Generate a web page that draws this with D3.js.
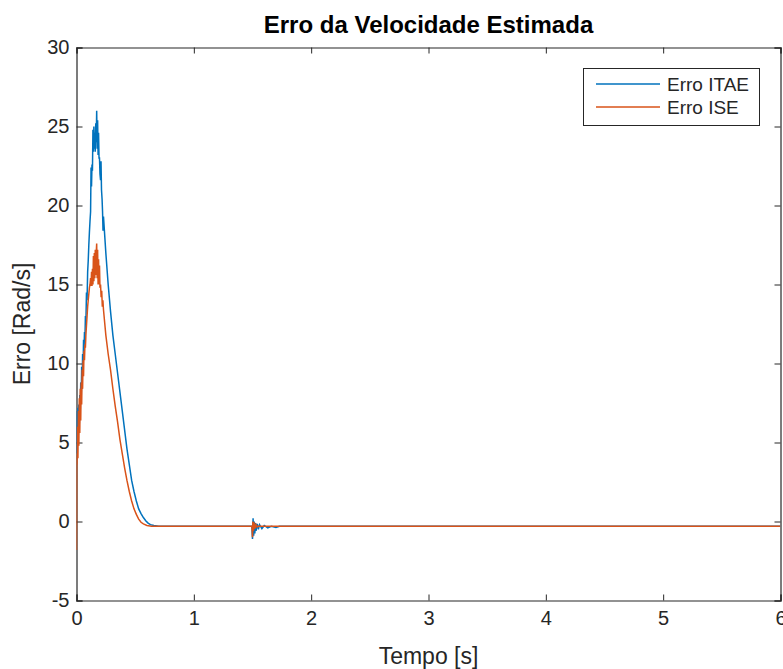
<!DOCTYPE html>
<html>
<head>
<meta charset="utf-8">
<script src="https://cdn.jsdelivr.net/npm/d3@7"></script>
<style>
  body { margin: 0; background: #fff; }
  text { font-family: "Liberation Sans", Arial, sans-serif; fill: #262626; }
  .axis path, .axis line { stroke: #262626; }
</style>
</head>
<body>
<svg id="chart" width="783" height="669"></svg>
<script>
// series: Erro ITAE (blue)
var itaeT = [0, 0.004, 0.008, 0.012, 0.016, 0.020, 0.024, 0.028, 0.032, 0.036, 0.040, 0.044, 0.048, 0.052, 0.056, 0.060,
  0.064, 0.068, 0.072, 0.076, 0.080, 0.085, 0.090, 0.095, 0.100, 0.105, 0.110, 0.115, 0.120, 0.124, 0.128, 0.132, 0.136,
  0.140, 0.144, 0.148, 0.152, 0.156, 0.160, 0.164, 0.168, 0.172, 0.176, 0.180, 0.184, 0.188, 0.192, 0.196, 0.200, 0.205,
  0.209, 0.213, 0.218, 0.222, 0.226, 0.230, 0.25, 0.27, 0.29, 0.31, 0.33, 0.35, 0.37, 0.39, 0.41, 0.43, 0.45, 0.47, 0.49,
  0.51, 0.53, 0.55, 0.57, 0.59, 0.61, 0.63, 0.66, 0.70, 1.495, 1.500, 1.505, 1.510, 1.515, 1.520, 1.525, 1.530, 1.540,
  1.550, 1.560, 1.580, 1.600, 1.630, 1.660, 1.700, 1.730, 6.0];
var itaeV = [4.3, 7.0, 5.0, 7.2, 5.5, 7.4, 6.2, 8.0, 7.0, 8.8, 7.6, 9.8, 8.4, 10.6, 9.6, 11.5,
  10.8, 12.0, 11.6, 13.0, 12.6, 14.5, 14.0, 15.8, 16.5, 17.5, 18.3, 19.0, 19.6, 22.4, 21.2, 22.6, 22.2,
  24.8, 23.4, 25.0, 23.6, 24.6, 23.4, 25.2, 24.0, 26.0, 23.6, 25.4, 23.2, 24.6, 23.0, 23.0, 22.0, 21.6,
  22.8, 21.0, 20.4, 19.6, 18.4, 19.3, 17.0, 15.0, 13.3, 11.8, 10.6, 9.4, 8.2, 7.0, 5.8, 4.6, 3.6, 2.6, 1.9,
  1.3, 0.8, 0.5, 0.25, 0.05, -0.1, -0.2, -0.25, -0.3, -0.3, -1.1, 0.2, -0.9, 0.0, -0.75, -0.1, -0.6, -0.15,
  -0.5, -0.2, -0.45, -0.25, -0.4, -0.3, -0.38, -0.3, -0.3];

// series: Erro ISE (orange)
var iseT = [0, 0.002, 0.004, 0.008, 0.012, 0.016, 0.020, 0.024, 0.028, 0.032, 0.036, 0.040, 0.044, 0.048, 0.052, 0.056,
  0.060, 0.064, 0.068, 0.072, 0.076, 0.080, 0.085, 0.090, 0.095, 0.100, 0.105, 0.110, 0.115, 0.120, 0.124, 0.128, 0.132,
  0.136, 0.140, 0.144, 0.148, 0.152, 0.156, 0.160, 0.164, 0.168, 0.172, 0.176, 0.180, 0.184, 0.188, 0.192, 0.196, 0.200,
  0.205, 0.210, 0.215, 0.220, 0.225, 0.23, 0.25, 0.27, 0.29, 0.31, 0.33, 0.35, 0.37, 0.39, 0.41, 0.43, 0.45, 0.47, 0.49,
  0.51, 0.53, 0.55, 0.57, 0.60, 0.64, 1.495, 1.500, 1.503, 1.508, 1.513, 1.520, 1.530, 1.540, 1.550, 6.0];
var iseV = [-1.8, 4.0, 3.6, 6.0, 4.0, 7.0, 4.8, 7.8, 5.6, 8.4, 6.4, 8.8, 7.4, 9.6, 8.4, 10.2,
  9.2, 10.8, 10.2, 11.2, 11.0, 11.8, 12.4, 13.0, 13.6, 14.0, 14.4, 14.8, 15.0, 15.4, 14.9, 15.8, 14.9,
  16.0, 15.0, 16.8, 15.2, 17.0, 15.4, 17.2, 15.6, 17.0, 17.6, 15.4, 17.2, 15.0, 16.6, 15.0, 16.2, 14.8,
  15.0, 14.2, 14.6, 13.6, 14.0, 13.4, 11.8, 10.6, 9.6, 8.4, 7.3, 6.3, 5.2, 4.3, 3.4, 2.6, 1.9, 1.3, 0.8,
  0.45, 0.15, -0.05, -0.15, -0.25, -0.3, -0.3, -1.0, 0.0, -0.6, -0.05, -0.45, -0.2, -0.35, -0.3, -0.3];

var xTicks = [0, 1, 2, 3, 4, 5, 6];
var yTicks = [-5, 0, 5, 10, 15, 20, 25, 30];
var seriesNames = ["Erro ITAE", "Erro ISE"];
var seriesColors = ["#0072BD", "#D95319"];

var plotLeft = 76.5, plotRight = 780.5, plotTop = 47.5, plotBottom = 600.5;

var svg = d3.select("#chart");

var x = d3.scaleLinear().domain([0, 6]).range([plotLeft, plotRight]);
var y = d3.scaleLinear().domain([-5, 30]).range([plotBottom, plotTop]);

// plain hyphen minus, like the original figure
var fmt = function(d) { return String(d); };

svg.append("defs").append("clipPath").attr("id", "plotclip")
  .append("rect")
    .attr("x", plotLeft).attr("y", plotTop)
    .attr("width", plotRight - plotLeft).attr("height", plotBottom - plotTop);

// axes (box with inward ticks)
svg.append("g")
    .attr("class", "axis")
    .attr("transform", "translate(0," + plotBottom + ")")
    .call(d3.axisBottom(x).tickValues(xTicks).tickSize(-6).tickPadding(10).tickFormat(fmt))
    .call(function(g) { g.selectAll("text").style("font-size", "20px"); g.select(".domain").attr("stroke-width", 1.2); });

svg.append("g")
    .attr("class", "axis")
    .attr("transform", "translate(0," + plotTop + ")")
    .call(d3.axisTop(x).tickValues(xTicks).tickSize(-6).tickFormat(""))
    .call(function(g) { g.select(".domain").attr("stroke-width", 1.2); });

svg.append("g")
    .attr("class", "axis")
    .attr("transform", "translate(" + plotLeft + ",0)")
    .call(d3.axisLeft(y).tickValues(yTicks).tickSize(-6).tickPadding(7).tickFormat(fmt))
    .call(function(g) { g.selectAll("text").style("font-size", "20px"); g.select(".domain").attr("stroke-width", 1.2); });

svg.append("g")
    .attr("class", "axis")
    .attr("transform", "translate(" + plotRight + ",0)")
    .call(d3.axisRight(y).tickValues(yTicks).tickSize(-6).tickFormat(""))
    .call(function(g) { g.select(".domain").attr("stroke-width", 1.2); });

// lines
var line = d3.line()
  .x(function(d) { return x(d[0]); })
  .y(function(d) { return y(d[1]); });

var itaeData = itaeT.map(function(t, i) { return [t, itaeV[i]]; });
var iseData = iseT.map(function(t, i) { return [t, iseV[i]]; });

var plot = svg.append("g").attr("clip-path", "url(#plotclip)");
[itaeData, iseData].forEach(function(data, i) {
  plot.append("path")
    .datum(data)
    .attr("fill", "none")
    .attr("stroke", seriesColors[i])
    .attr("stroke-width", 1.5)
    .attr("stroke-linejoin", "miter")
    .attr("d", line);
});

// title and labels
svg.append("text")
  .attr("x", (plotLeft + plotRight) / 2).attr("y", 33)
  .attr("text-anchor", "middle")
  .style("font-size", "24px").style("font-weight", "bold")
  .style("fill", "#000")
  .text("Erro da Velocidade Estimada");

svg.append("text")
  .attr("x", (plotLeft + plotRight) / 2).attr("y", 664)
  .attr("text-anchor", "middle")
  .style("font-size", "23px")
  .text("Tempo [s]");

svg.append("text")
  .attr("transform", "translate(30," + ((plotTop + plotBottom) / 2) + ") rotate(-90)")
  .attr("text-anchor", "middle")
  .style("font-size", "23px")
  .text("Erro [Rad/s]");

// legend
var legend = svg.append("g");
legend.append("rect")
  .attr("x", 583.5).attr("y", 68.5).attr("width", 176).attr("height", 57)
  .attr("fill", "#fff").attr("stroke", "#262626").attr("stroke-width", 1);

seriesNames.forEach(function(name, i) {
  var ly = 84 + i * 23;
  legend.append("line")
    .attr("x1", 596).attr("x2", 660).attr("y1", ly).attr("y2", ly)
    .attr("stroke", seriesColors[i]).attr("stroke-width", 1.5);
  legend.append("text")
    .attr("x", 667).attr("y", ly + 7)
    .style("font-size", "19px")
    .text(name);
});
</script>
</body>
</html>
